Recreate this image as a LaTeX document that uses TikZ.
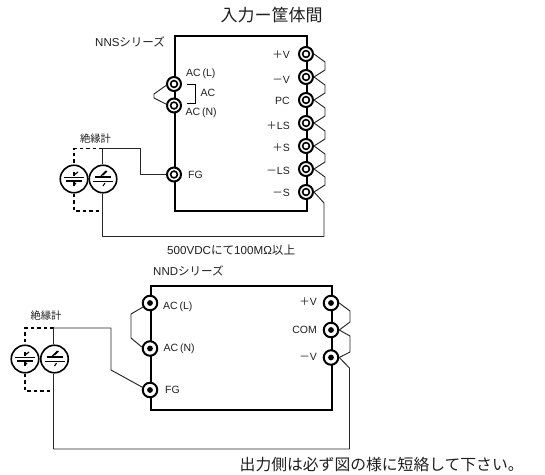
\documentclass[tikz,border=0pt]{standalone}
\usepackage{fontspec}
\setmainfont{Liberation Sans}
\newfontfamily\cjk{Noto Sans CJK JP}
\usetikzlibrary{calc}
\definecolor{ink}{gray}{0.12}
\tikzset{
  boxframe/.style={draw=black,line width=2pt,inner sep=0pt,anchor=north west},
  termA/.style={circle,draw=black,line width=2pt,fill=white,minimum size=14pt,inner sep=0pt,
    path picture={\draw[line width=1.6pt,fill=none] (path picture bounding box.center) circle (3.4pt);}},
  termB/.style={circle,draw=black,line width=2pt,fill=white,minimum size=14.5pt,inner sep=0pt,
    path picture={\fill[black] (path picture bounding box.center) circle (2.9pt);}},
  meter/.style={circle,draw=black,line width=1.6pt,minimum size=27.5pt,inner sep=0pt},
  wire/.style={draw=black!85,line width=0.95pt,line join=round},
  probe/.style={draw=black,line width=1.6pt,dash pattern=on 3.5pt off 3pt},
  lab/.style={inner sep=0pt,text=ink,font=\fontsize{10.5}{12}\selectfont},
  rlab/.style={lab,anchor=east},
  llab/.style={lab,anchor=west},
  jp/.style={inner sep=0pt,text=ink,font=\cjk\fontsize{10.3}{12}\selectfont},
  plate/.style={line width=2.2pt},
  thin plate/.style={line width=1pt}
}
\newcommand{\meterthickbelow}[1]{%
  \draw[thin plate] ($(#1)+(-10,-2)$) -- ($(#1)+(10,-2)$);
  \draw[plate] ($(#1)+(-8,2)$) -- ($(#1)+(8,2)$);
  \draw[line width=1.2pt] ($(#1)+(0,-7)$) -- ($(#1)+(0,-3)$);
  \draw[line width=1.2pt] ($(#1)+(0,3)$) -- ($(#1)+(0,7)$);
  \draw[line width=1.1pt] ($(#1)+(0,-4)$) -- ($(#1)+(4,-7)$);
  \draw[line width=1.1pt] ($(#1)+(0,6)$) -- ($(#1)+(2,4)$);
}
\newcommand{\meterthickabove}[1]{%
  \draw[plate] ($(#1)+(-8,-2)$) -- ($(#1)+(8,-2)$);
  \draw[thin plate] ($(#1)+(-10,2)$) -- ($(#1)+(10,2)$);
  \draw[line width=1.1pt] ($(#1)+(0,-4)$) -- ($(#1)+(4,-8)$);
  \draw[line width=1.1pt] ($(#1)+(-2,-3)$) -- ($(#1)+(3,-8)$);
  \draw[line width=1.1pt] ($(#1)+(0,7)$) -- ($(#1)+(2,4)$);
}
\begin{document}
\begin{tikzpicture}[x=1pt,y=-1pt]
\useasboundingbox (0,0) rectangle (545,474);
% ---------- NNS ----------
\node[boxframe,minimum width=132pt,minimum height=174.5pt] (boxA) at (174,35) {};
\node[termA] (acl) at (174,84) {};
\node[termA] (acn) at (174,105.5) {};
\node[termA] (fg) at (174,174.5) {};
\node[termA] (pv) at (306,54) {};
\node[termA] (mv) at (306,77) {};
\node[termA] (pc) at (306,100) {};
\node[termA] (pls) at (306,123) {};
\node[termA] (ps) at (306,146) {};
\node[termA] (mls) at (306,169) {};
\node[termA] (ms) at (306,192) {};
\node[meter] (m1) at (74,179) {};
\node[meter] (m2) at (103,179) {};
\coordinate (t1) at (102.5,148.5);
\coordinate (t2) at (74,148.5);
\coordinate (b1) at (102.5,211);
\coordinate (b2) at (74,211);
\draw[probe] (t1) -- (t2) -- (m1.north);
\draw[probe] (m1.south) -- (b2) -- (b1);
\draw[wire] (m2.north -| t1) -- (t1) -- (140,148.5) -- (140,174.5) -- (fg.west);
\draw[wire] (m2.south -| t1) -- (102.5,236.5) -- (324,236.5) -- (324,203) -- (ms.east);
\draw[wire] (acl.-170) -- (154,94) -- (154,98) -- (acn.170);
\foreach \a/\b in {pv/mv,mv/pc,pc/pls,pls/ps,ps/mls,mls/ms}{
  \draw[wire] (\a.east) -- ($(\a.center)+(19,8)$) -- ($(\b.center)+(19,-7)$) -- (\b.east);
}
\meterthickbelow{m1}
\meterthickabove{m2}
\coordinate (brk) at (187,84);
\draw[line width=0.8pt] (brk) -- (195,84) -- (195,103) -- (187,103);
\node[text=ink,inner sep=0pt,font=\cjk\fontsize{17}{20}\selectfont] (title) at (271.5,15) {入力ー筐体間};
\node[llab] (nns) at (95,42) {\fontsize{11.5}{13}\selectfont NNS{\cjk シリーズ}};
\node[llab] (lacl) at (186,73.5) {AC\,(L)};
\node[lab] (lac) at (208,93) {AC};
\node[llab] (lacn) at (185.5,113) {AC\,(N)};
\node[llab] (lfg) at (188,175) {FG};
\node[rlab] (lpv) at (290,55) {{\cjk ＋}V};
\node[rlab] (lmv) at (290,80) {{\cjk －}V};
\node[rlab] (lpc) at (290,100.5) {PC};
\node[rlab] (lpls) at (290,125.5) {{\cjk ＋}LS};
\node[rlab] (lps) at (290,148) {{\cjk ＋}S};
\node[rlab] (lmls) at (290,171) {{\cjk －}LS};
\node[rlab] (lms) at (290,193) {{\cjk －}S};
\node[jp] (ins1) at (95.5,138.5) {絶縁計};
\node[llab] (spec) at (167,250) {\fontsize{11.6}{13}\selectfont 500VDC{\cjk にて}100MΩ{\cjk 以上}};
% ---------- NND ----------
\node[boxframe,minimum width=181pt,minimum height=124pt] (boxB) at (150,285) {};
\node[termB] (bacl) at (150,303) {};
\node[termB] (bacn) at (150,348.5) {};
\node[termB] (bfg) at (150,390) {};
\node[termB] (bpv) at (331,303) {};
\node[termB] (bcom) at (331,330) {};
\node[termB] (bmv) at (331,357.5) {};
\node[meter] (m3) at (25,359) {};
\node[meter] (m4) at (54.5,359) {};
\coordinate (u1) at (53.5,328);
\coordinate (u2) at (25,328);
\coordinate (d1) at (53.5,391);
\coordinate (d2) at (25,391);
\draw[probe] (u1) -- (u2) -- (m3.north);
\draw[probe] (m3.south) -- (d2) -- (d1);
\draw[wire] (m4.north -| u1) -- (u1) -- (111,328) -- (111,370) -- (bfg.160);
\draw[wire] (m4.south -| u1) -- (53.5,449) -- (349.5,449) -- (349.5,368) -- (bmv.east);
\draw[wire] (bacl.-150) -- (131,314) -- (131,338) -- (bacn.170);
\draw[wire] (bpv.east) -- (350,311) -- (350,322) -- (bcom.east);
\draw[wire] (bcom.east) -- (350,336) -- (350,352) -- (bmv.east);
\meterthickbelow{m3}
\meterthickabove{m4}
\node[llab] (nnd) at (153,271) {\fontsize{11.5}{13}\selectfont NND{\cjk シリーズ}};
\node[llab] (lbacl) at (163,307) {AC\,(L)};
\node[llab] (lbacn) at (163.5,349) {AC\,(N)};
\node[llab] (lbfg) at (165,390) {FG};
\node[rlab] (lbpv) at (317,302) {{\cjk ＋}V};
\node[rlab] (lbcom) at (317,330) {COM};
\node[rlab] (lbmv) at (317,357) {{\cjk －}V};
\node[jp] (ins2) at (46,315.5) {絶縁計};
\node[llab,font=\cjk\fontsize{15.8}{20}\selectfont] (note) at (239.5,465) {出力側は必ず図の様に短絡して下さい。};
\end{tikzpicture}
\end{document}
